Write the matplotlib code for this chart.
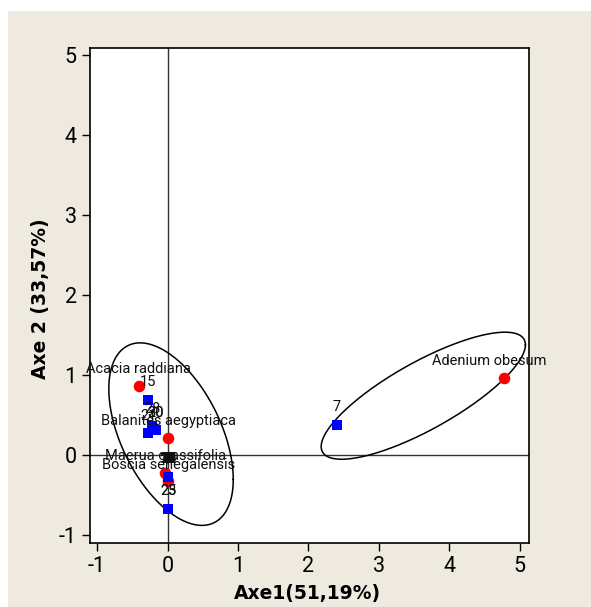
import numpy as np
import matplotlib
matplotlib.use("Agg")
import matplotlib.pyplot as plt
from matplotlib.patches import Rectangle

# ---------------- data ----------------
species = ["Acacia raddiana", "Adenium obesum", "Balanites aegyptiaca",
           "Maerua crassifolia", "Boscia senegalensis"]
species_x = [-0.41, 4.77, 0.01, -0.03, 0.01]
species_y = [0.86, 0.96, 0.21, -0.22, -0.33]

site_labels = ["7", "15", "20", "30", "21", "28", "23", "25",
               "1", "2", "3", "4", "5", "6", "8", "9", "10", "11", "12",
               "13", "14", "16", "17", "18", "19", "22", "24", "26", "27", "29"]
site_x = [2.40, -0.27, -0.17, -0.17, -0.27, -0.22, 0.01, 0.01,
          0.01, 0.01, 0.01, 0.01, 0.01, 0.01, 0.01, 0.01, 0.01, 0.01, 0.01,
          0.01, 0.01, 0.01, 0.01, 0.01, 0.01, 0.01, 0.01, 0.01, 0.01, 0.01]
site_y = [0.38, 0.69, 0.31, 0.31, 0.27, 0.36, -0.67, -0.67,
          -0.27, -0.27, -0.27, -0.27, -0.27, -0.27, -0.27, -0.27, -0.27, -0.27, -0.27,
          -0.27, -0.27, -0.27, -0.27, -0.27, -0.27, -0.27, -0.27, -0.27, -0.27, -0.27]

# ellipses: centre and covariance (sxx, syy, sxy) in data units
ell_centers = [(0.05, 0.26), (3.63, 0.74)]
ell_cov = [(0.78, 1.30, -0.50), (2.10, 0.63, 0.92)]

x_ticks = [-1, 0, 1, 2, 3, 4, 5]
y_ticks = [-1, 0, 1, 2, 3, 4, 5]
x_label = "Axe1(51,19%)"
y_label = "Axe 2 (33,57%)"

# ---------------- figure ----------------
plt.rcParams['font.family'] = ['Roboto', 'DejaVu Sans']
fig = plt.figure(figsize=(5.91, 6.07), dpi=100, facecolor="white")
fig.patches.append(Rectangle((8 / 591, 0), 1, 1 - 11 / 607, transform=fig.transFigure,
                             facecolor="#EEEAE0", edgecolor="none", zorder=-10))

ax = fig.add_axes([90 / 591, 1 - 543 / 607, (529 - 90) / 591, (543 - 47.5) / 607])
ax.set_facecolor("white")
ax.set_xlim(-1.1, 5.13)
ax.set_ylim(-1.1, 5.09)

ax.axhline(0, color="#333333", lw=1.0, zorder=1)
ax.axvline(0, color="#333333", lw=1.0, zorder=1)

t = np.linspace(0, 2 * np.pi, 300)
for (cx, cy), (sxx, syy, sxy) in zip(ell_centers, ell_cov):
    L = np.linalg.cholesky(np.array([[sxx, sxy], [sxy, syy]]))
    pts = L @ np.vstack([np.cos(t), np.sin(t)])
    ax.plot(cx + pts[0], cy + pts[1], color="black", lw=1.1, zorder=2)

ax.scatter(species_x, species_y, marker="o", s=70, color="#FF0000", zorder=3, linewidths=0)
ax.scatter(site_x, site_y, marker="s", s=60, color="#0000FF", zorder=3, linewidths=0)

label_offsets = {"Adenium obesum": (-10, 12)}
for name, x, y in zip(species, species_x, species_y):
    dx, dy = label_offsets.get(name, (0, 12))
    ax.annotate(name, (x, y), xytext=(dx, dy), textcoords="offset points",
                ha="center", va="center", fontsize=10.5, color="#111111", zorder=4)
for name, x, y in zip(site_labels, site_x, site_y):
    ax.annotate(name, (x, y), xytext=(0, 12.5), textcoords="offset points",
                ha="center", va="center", fontsize=10.5, color="#111111", zorder=4)

ax.set_xticks(x_ticks)
ax.set_yticks(y_ticks)
ax.set_xticklabels([str(v) for v in x_ticks])
ax.set_yticklabels([str(v) for v in y_ticks])
ax.tick_params(direction="out", length=5.5, width=1, labelsize=15.5, pad=4)
for s in ax.spines.values():
    s.set_linewidth(1.2)

ax.set_xlabel(x_label, fontsize=13.5, fontweight="bold", family="DejaVu Sans")
ax.set_ylabel(y_label, fontsize=13.5, fontweight="bold", family="DejaVu Sans")
ax.xaxis.set_label_coords((307 - 90) / 439, (543 - 593) / 495.5)
ax.xaxis.label.set_va("center")
ax.yaxis.set_label_coords((40 - 90) / 439, (543 - 299) / 495.5)
ax.yaxis.label.set_va("center")

fig.savefig("out.png", dpi=100, facecolor=fig.get_facecolor())
